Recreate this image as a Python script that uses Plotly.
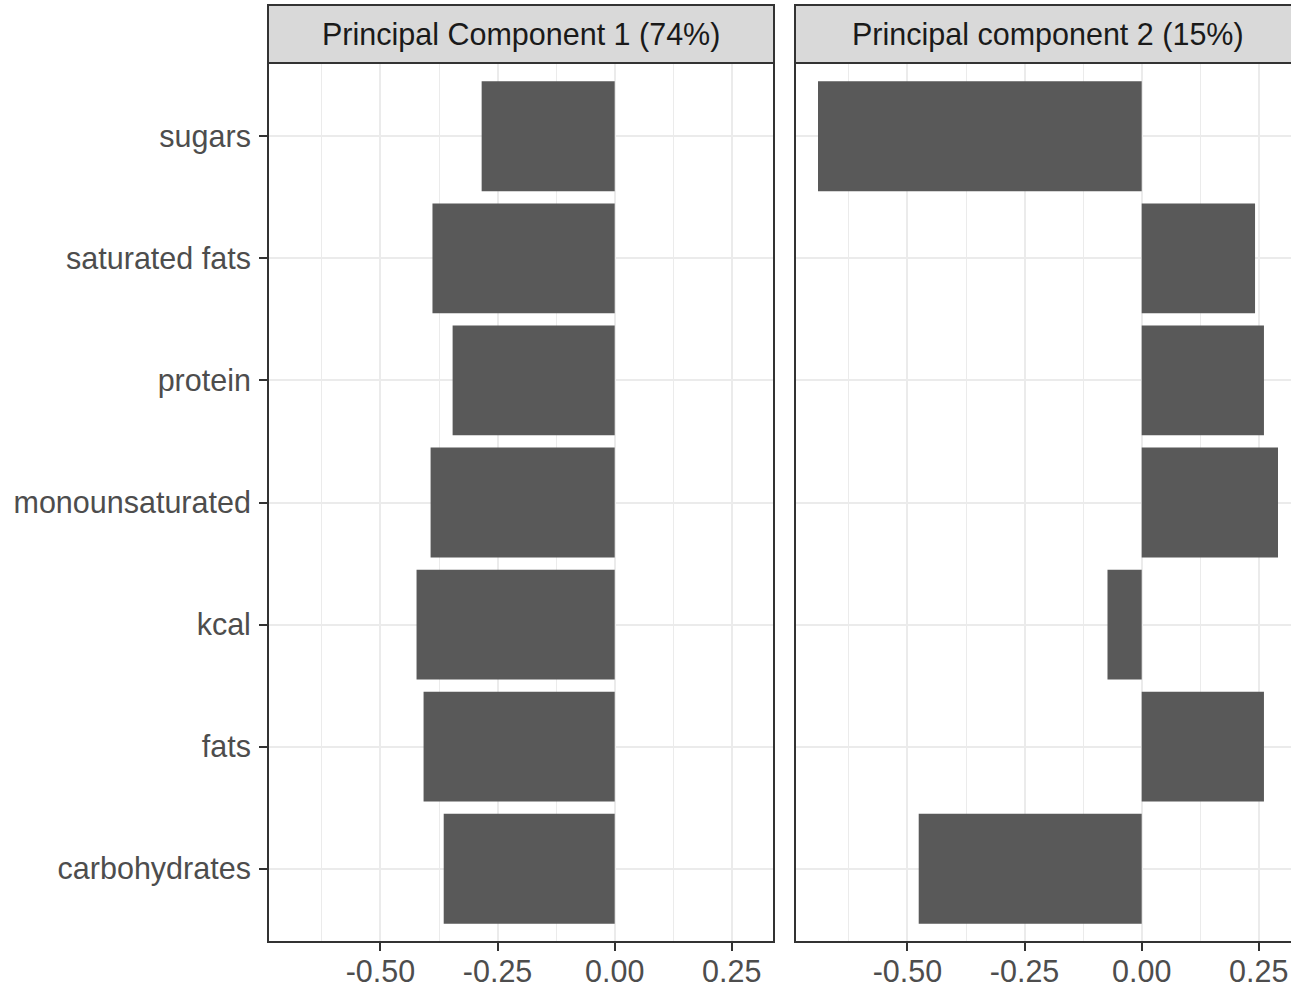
import plotly.graph_objects as go

# ---- data ----
categories = ["carbohydrates", "fats", "kcal", "monounsaturated",
              "protein", "saturated fats", "sugars"]
pc1_values = [-0.365, -0.408, -0.423, -0.393, -0.346, -0.389, -0.284]
pc2_values = [-0.476, 0.261, -0.073, 0.291, 0.261, 0.242, -0.691]
panel_titles = ["Principal Component 1 (74%)", "Principal component 2 (15%)"]
x_tickvals = [-0.50, -0.25, 0.00, 0.25]
x_ticktext = ["-0.50", "-0.25", "0.00", "0.25"]
x_minorvals = [-0.625, -0.375, -0.125, 0.125]

W, H = 1291, 988
FONT = "Liberation Sans, Arial, Helvetica, sans-serif"
FS = 30.5
BAR = "#595959"
GRID = "#EBEBEB"
BORDER = "#333333"

# panel geometry (pixels)
p1_left, p1_right = 268, 774
p2_left = 795
p2_right_full = p2_left + (p1_right - p1_left)
panel_top, panel_bottom = 63, 942
strip_top = 5

# shared x scale (ggplot-like 5% expansion)
all_vals = pc1_values + pc2_values
lo, hi = min(all_vals), max(all_vals)
span = hi - lo
xmin, xmax = lo - 0.05 * span, hi + 0.05 * span
px_per_unit = (p1_right - p1_left) / (xmax - xmin)
x2max = xmin + (W - p2_left) / px_per_unit

fig = go.Figure()
fig.add_trace(go.Bar(x=pc1_values, y=categories, orientation="h", width=0.9,
                     marker=dict(color=BAR, line=dict(width=0)),
                     xaxis="x", yaxis="y", showlegend=False))
fig.add_trace(go.Bar(x=pc2_values, y=categories, orientation="h", width=0.9,
                     marker=dict(color=BAR, line=dict(width=0)),
                     xaxis="x2", yaxis="y2", showlegend=False))

ydom = [1 - panel_bottom / H, 1 - panel_top / H]

xcommon = dict(
    tickmode="array", tickvals=x_tickvals, ticktext=x_ticktext,
    showgrid=True, gridcolor=GRID, gridwidth=2.2, zeroline=False,
    ticks="outside", ticklen=8, tickwidth=2, tickcolor=BORDER,
    tickfont=dict(family=FONT, size=FS, color="#4D4D4D"),
    ticklabelstandoff=-6,
    minor=dict(tickmode="array", tickvals=x_minorvals, showgrid=True,
               gridcolor=GRID, gridwidth=1.2, ticks=""),
    showline=False, fixedrange=True, automargin=False,
)
ycommon = dict(
    type="category", categoryorder="array", categoryarray=categories,
    range=[-0.6, len(categories) - 0.4], domain=ydom,
    showgrid=True, gridcolor=GRID, gridwidth=2.2, zeroline=False,
    showline=False, fixedrange=True, automargin=False,
)

fig.update_layout(
    width=W, height=H,
    margin=dict(l=0, r=0, t=0, b=0),
    paper_bgcolor="white", plot_bgcolor="white",
    xaxis=dict(domain=[p1_left / W, p1_right / W], range=[xmin, xmax],
               anchor="y", **xcommon),
    xaxis2=dict(domain=[p2_left / W, 1.0], range=[xmin, x2max],
                anchor="y2", **xcommon),
    yaxis=dict(anchor="x", ticks="outside", ticklen=8, tickwidth=2,
               tickcolor=BORDER, ticklabelstandoff=2,
               tickfont=dict(family=FONT, size=FS, color="#4D4D4D"),
               **ycommon),
    yaxis2=dict(anchor="x2", showticklabels=False, ticks="", **ycommon),
    bargap=0.1,
)

shapes = []
strips = [(p1_left, p1_right), (p2_left, p2_right_full)]
for (l, r), title in zip(strips, panel_titles):
    # panel border
    shapes.append(dict(type="rect", xref="paper", yref="paper",
                       x0=l / W, x1=r / W,
                       y0=1 - panel_bottom / H, y1=1 - panel_top / H,
                       line=dict(color=BORDER, width=2), fillcolor="rgba(0,0,0,0)",
                       layer="above"))
    # strip
    shapes.append(dict(type="rect", xref="paper", yref="paper",
                       x0=l / W, x1=r / W,
                       y0=1 - panel_top / H, y1=1 - strip_top / H,
                       line=dict(color=BORDER, width=2), fillcolor="#D9D9D9",
                       layer="above"))
    fig.add_annotation(x=(l + r) / 2 / W, y=1 - (strip_top + panel_top) / 2 / H,
                       xref="paper", yref="paper", text=title, showarrow=False,
                       xanchor="center", yanchor="middle",
                       font=dict(family=FONT, size=FS, color="#1A1A1A"))
fig.update_layout(shapes=shapes)

fig.write_html("out.html")
